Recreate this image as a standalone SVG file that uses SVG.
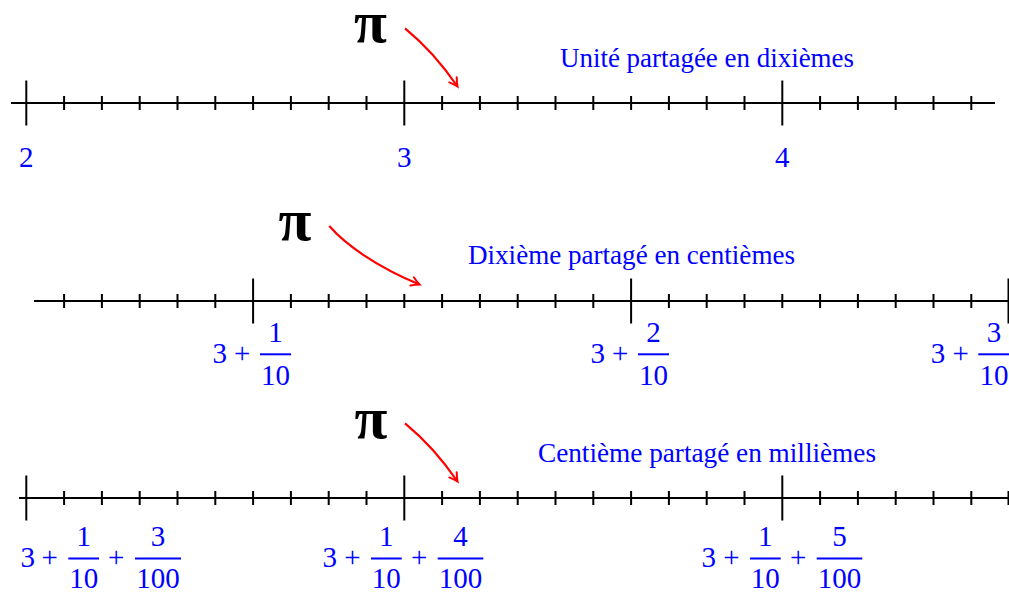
<svg xmlns="http://www.w3.org/2000/svg" width="1009" height="592" viewBox="0 0 1009 592">
<style>
.axis{stroke:#000;stroke-width:2;fill:none}
.tick{stroke:#000;stroke-width:2;fill:none}
.arr{stroke:#ff0000;stroke-width:2.2;fill:none}
.pi{font-family:"Liberation Serif",serif;font-weight:bold;font-size:60px;fill:#000;text-anchor:middle}
.cap{font-family:"Liberation Serif",serif;font-size:27px;fill:#0000ff}
.num{font-family:"Liberation Serif",serif;font-size:29px;fill:#0000ff;text-anchor:middle}
.bar{stroke:#0000ff;stroke-width:2}
</style>
<defs>
<marker id="ah" markerUnits="userSpaceOnUse" markerWidth="14" markerHeight="14" viewBox="-10 -7 12 14" refX="0" refY="0" orient="auto">
<path d="M-8,-4.5 Q-3,-1.2 0,0 Q-3,1.2 -8,4.5" stroke="#ff0000" stroke-width="2" fill="none" stroke-linecap="round"/>
</marker>
</defs>
<g id="line1">
<path class="axis" d="M11,103 H995"/>
<path class="tick" d="M64.1,96v14M101.9,96v14M139.7,96v14M177.5,96v14M215.3,96v14M253.1,96v14M290.9,96v14M328.7,96v14M366.5,96v14M442.1,96v14M479.9,96v14M517.7,96v14M555.5,96v14M593.3,96v14M631.1,96v14M668.9,96v14M706.7,96v14M744.5,96v14M820.1,96v14M857.9,96v14M895.7,96v14M933.5,96v14M971.3,96v14"/>
<path class="tick" d="M26.3,80.5v45M404.3,80.5v45M782.3,80.5v45"/>
<text class="num" x="26.3" y="167">2</text>
<text class="num" x="404.3" y="167">3</text>
<text class="num" x="782.3" y="167">4</text>
<text class="cap" x="560" y="67" textLength="294" lengthAdjust="spacingAndGlyphs">Unité partagée en dixièmes</text>
</g>
<g id="line2">
<path class="axis" d="M34,301 H1009"/>
<path class="tick" d="M64.1,294v14M101.9,294v14M139.7,294v14M177.5,294v14M215.3,294v14M290.9,294v14M328.7,294v14M366.5,294v14M404.3,294v14M442.1,294v14M479.9,294v14M517.7,294v14M555.5,294v14M593.3,294v14M668.9,294v14M706.7,294v14M744.5,294v14M782.3,294v14M820.1,294v14M857.9,294v14M895.7,294v14M933.5,294v14M971.3,294v14"/>
<path class="tick" d="M253.1,278.5v45M631.1,278.5v45M1008.5,278.5v45"/>
<text class="cap" x="468" y="264" textLength="327" lengthAdjust="spacingAndGlyphs">Dixième partagé en centièmes</text>
<g id="lab2a">
<text class="num" x="219.7" y="363">3</text>
<text class="num" x="242.3" y="363">+</text>
<line class="bar" x1="260" y1="354.3" x2="291" y2="354.3"/>
<text class="num" x="275.5" y="342">1</text>
<text class="num" x="275.5" y="384.5">10</text>
</g>
<g id="lab2b">
<text class="num" x="597.7" y="363">3</text>
<text class="num" x="620.3" y="363">+</text>
<line class="bar" x1="638" y1="354.3" x2="669" y2="354.3"/>
<text class="num" x="653.5" y="342">2</text>
<text class="num" x="653.5" y="384.5">10</text>
</g>
<g id="lab2c">
<text class="num" x="938" y="363">3</text>
<text class="num" x="960.8" y="363">+</text>
<line class="bar" x1="978.3" y1="354.3" x2="1009.5" y2="354.3"/>
<text class="num" x="994" y="342">3</text>
<text class="num" x="994" y="384.5">10</text>
</g>
</g>
<g id="line3">
<path class="axis" d="M19,498 H1009"/>
<path class="tick" d="M64.1,491v14M101.9,491v14M139.7,491v14M177.5,491v14M215.3,491v14M253.1,491v14M290.9,491v14M328.7,491v14M366.5,491v14M442.1,491v14M479.9,491v14M517.7,491v14M555.5,491v14M593.3,491v14M631.1,491v14M668.9,491v14M706.7,491v14M744.5,491v14M820.1,491v14M857.9,491v14M895.7,491v14M933.5,491v14M971.3,491v14M1008.5,491v14"/>
<path class="tick" d="M26.3,475.5v45M404.3,475.5v45M782.3,475.5v45"/>
<text class="cap" x="538" y="462" textLength="338" lengthAdjust="spacingAndGlyphs">Centième partagé en millièmes</text>
<g id="lab3a">
<text class="num" x="27.7" y="567">3</text>
<text class="num" x="49.7" y="567">+</text>
<line class="bar" x1="68.3" y1="558.5" x2="99" y2="558.5"/>
<text class="num" x="83.7" y="546">1</text>
<text class="num" x="83.7" y="587.5">10</text>
<text class="num" x="116.2" y="567">+</text>
<line class="bar" x1="135" y1="558.5" x2="181" y2="558.5"/>
<text class="num" x="158" y="546">3</text>
<text class="num" x="158" y="587.5">100</text>
</g>
<g id="lab3b">
<text class="num" x="329.7" y="567">3</text>
<text class="num" x="352.5" y="567">+</text>
<line class="bar" x1="371" y1="558.5" x2="401.7" y2="558.5"/>
<text class="num" x="386.3" y="546">1</text>
<text class="num" x="386.3" y="587.5">10</text>
<text class="num" x="419.2" y="567">+</text>
<line class="bar" x1="437.7" y1="558.5" x2="483.3" y2="558.5"/>
<text class="num" x="460.5" y="546">4</text>
<text class="num" x="460.5" y="587.5">100</text>
</g>
<g id="lab3c">
<text class="num" x="708.7" y="567">3</text>
<text class="num" x="731.5" y="567">+</text>
<line class="bar" x1="750" y1="558.5" x2="780.7" y2="558.5"/>
<text class="num" x="765.3" y="546">1</text>
<text class="num" x="765.3" y="587.5">10</text>
<text class="num" x="798.2" y="567">+</text>
<line class="bar" x1="816.7" y1="558.5" x2="862.3" y2="558.5"/>
<text class="num" x="839.5" y="546">5</text>
<text class="num" x="839.5" y="587.5">100</text>
</g>
</g>
<g id="pi1"><text class="pi" x="370.5" y="42">π</text></g>
<g id="pi2"><text class="pi" x="295" y="240">π</text></g>
<g id="pi3"><text class="pi" x="371" y="438">π</text></g>
<g id="connectors">
<path class="arr" d="M405,28.3 Q434,52 457.5,86.5" marker-end="url(#ah)"/>
<path class="arr" d="M329.3,226 C345,244 375,266 419.5,284.5" marker-end="url(#ah)"/>
<path class="arr" d="M405,423.3 Q434,447 457.5,481.5" marker-end="url(#ah)"/>
</g>
</svg>
